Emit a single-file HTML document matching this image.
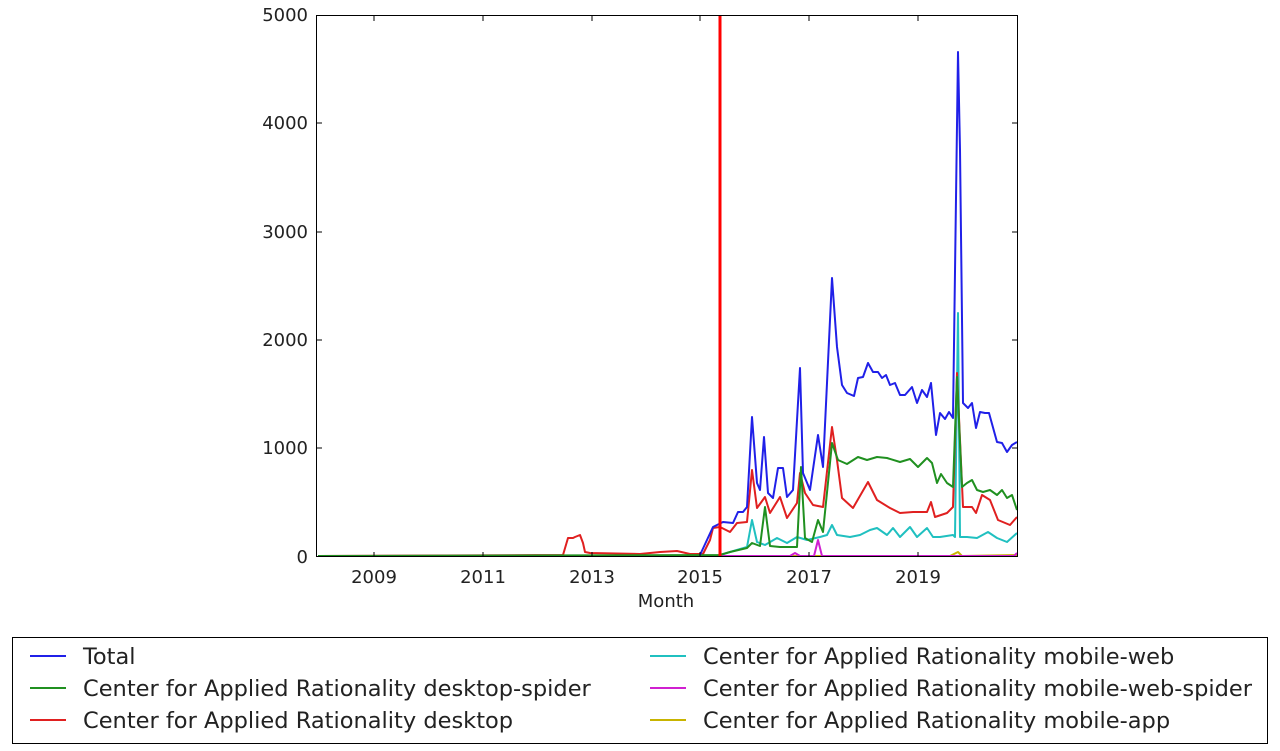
<!DOCTYPE html>
<html><head><meta charset="utf-8"><style>body{margin:0;background:#fff}svg{display:block}text{font-family:"DejaVu Sans","Liberation Sans",sans-serif;fill:#222}</style></head><body>
<svg width="1280" height="751" viewBox="0 0 1280 751" xmlns="http://www.w3.org/2000/svg">
<rect x="0" y="0" width="1280" height="751" fill="#fff"/>
<g fill="none" stroke-width="2" stroke-linejoin="round">
<polyline stroke="#c8b400" points="318,556 950,556 958,552 962,556 1017,555"/>
<polyline stroke="#d020d0" points="318,556 790,556 795,553 800,556 814,556 818,540 822,556 1014,556 1017,553"/>
<polyline stroke="#20c0c0" points="720,555 730,552 747,547 752,520 757,542 765,545 777,538 787,543 797,537 807,540 820,537 827,535 832,525 837,535 850,537 860,535 870,530 877,528 887,535 893,528 900,537 910,527 917,537 927,528 933,537 940,537 953,535 955,537 958,313 960,537 967,537 977,538 988,532 997,538 1007,542 1017,533"/>
<polyline stroke="#e02020" points="318,556 563,555 568,538 573,538 575,537 580,535 583,543 585,552 590,553 640,554 660,552 677,551 690,554 703,554 710,540 713,528 720,527 730,532 737,523 747,522 752,470 757,508 765,497 770,513 780,497 787,518 797,503 800,473 805,493 813,505 823,507 832,427 837,460 842,498 853,508 868,482 877,500 890,508 900,513 913,512 927,512 931,502 935,517 947,513 953,507 957,373 963,507 972,507 976,513 982,495 990,500 998,520 1010,525 1017,517"/>
<polyline stroke="#209020" points="318,556 720,555 730,552 747,548 752,543 760,546 765,507 770,546 780,547 797,547 801,467 805,538 812,542 818,520 823,532 832,443 838,460 847,464 858,457 867,460 877,457 887,458 900,462 910,459 918,467 927,458 932,463 937,483 941,474 947,483 953,487 957,377 962,487 967,483 972,480 977,490 983,492 990,490 997,495 1002,490 1007,498 1012,495 1017,510"/>
<polyline stroke="#2020e8" points="700,555 713,527 723,522 733,523 738,512 743,512 747,507 752,417 757,483 760,490 764,437 768,493 773,498 778,468 783,468 787,497 793,490 800,368 803,473 810,490 818,435 823,467 832,278 837,347 842,385 847,393 854,396 858,378 863,377 868,363 873,372 878,372 882,378 886,375 890,385 895,383 900,395 905,395 912,387 917,403 922,390 927,397 931,383 936,435 940,413 945,419 949,412 953,418 958,52 960,150 963,403 968,408 972,403 976,428 980,412 985,413 989,413 997,442 1002,443 1007,452 1012,445 1017,442"/>
</g>
<line x1="720" y1="15" x2="720" y2="557" stroke="#f00" stroke-width="3"/>
<rect x="316.5" y="15.5" width="701" height="541" fill="none" stroke="#000" stroke-width="1"/>
<g stroke="#000" stroke-width="1">
<line x1="374" y1="557" x2="374" y2="552"/><line x1="483" y1="557" x2="483" y2="552"/><line x1="592" y1="557" x2="592" y2="552"/><line x1="700" y1="557" x2="700" y2="552"/><line x1="809" y1="557" x2="809" y2="552"/><line x1="918" y1="557" x2="918" y2="552"/>
<line x1="374" y1="16" x2="374" y2="21"/><line x1="483" y1="16" x2="483" y2="21"/><line x1="592" y1="16" x2="592" y2="21"/><line x1="700" y1="16" x2="700" y2="21"/><line x1="809" y1="16" x2="809" y2="21"/><line x1="918" y1="16" x2="918" y2="21"/>
<line x1="317" y1="448" x2="322" y2="448"/><line x1="317" y1="340" x2="322" y2="340"/><line x1="317" y1="232" x2="322" y2="232"/><line x1="317" y1="123" x2="322" y2="123"/>
<line x1="1017" y1="448" x2="1012" y2="448"/><line x1="1017" y1="340" x2="1012" y2="340"/><line x1="1017" y1="232" x2="1012" y2="232"/><line x1="1017" y1="123" x2="1012" y2="123"/>
</g>
<g font-size="18" text-anchor="end">
<text x="308" y="563">0</text><text x="308" y="454">1000</text><text x="308" y="346">2000</text><text x="308" y="238">3000</text><text x="308" y="129">4000</text><text x="308" y="21">5000</text>
</g>
<g font-size="18" text-anchor="middle">
<text x="374" y="583">2009</text><text x="483" y="583">2011</text><text x="592" y="583">2013</text><text x="700" y="583">2015</text><text x="809" y="583">2017</text><text x="918" y="583">2019</text>
<text x="666" y="607">Month</text>
</g>
<rect x="12.5" y="637.5" width="1255" height="106" fill="#fff" stroke="#000" stroke-width="1"/>
<g stroke-width="2">
<line x1="30" y1="656" x2="66" y2="656" stroke="#2020e8"/>
<line x1="30" y1="688" x2="66" y2="688" stroke="#209020"/>
<line x1="30" y1="720" x2="66" y2="720" stroke="#e02020"/>
<line x1="650" y1="656" x2="686" y2="656" stroke="#20c0c0"/>
<line x1="650" y1="688" x2="686" y2="688" stroke="#d020d0"/>
<line x1="650" y1="720" x2="686" y2="720" stroke="#c8b400"/>
</g>
<g font-size="22.5">
<text x="83" y="664">Total</text>
<text x="83" y="696">Center for Applied Rationality desktop-spider</text>
<text x="83" y="728">Center for Applied Rationality desktop</text>
<text x="703" y="664">Center for Applied Rationality mobile-web</text>
<text x="703" y="696">Center for Applied Rationality mobile-web-spider</text>
<text x="703" y="728">Center for Applied Rationality mobile-app</text>
</g>
</svg>
</body></html>
